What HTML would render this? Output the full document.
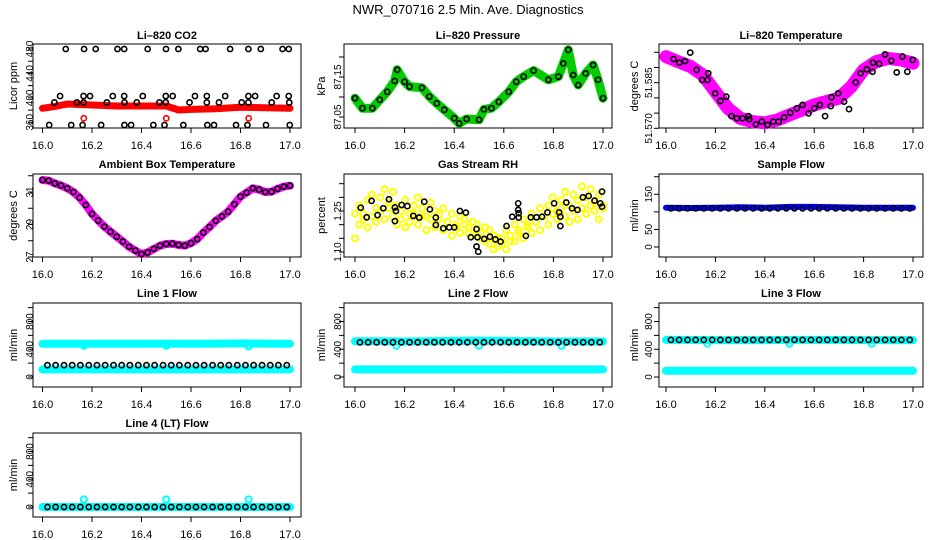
<!DOCTYPE html>
<html><head><meta charset="utf-8">
<style>
html,body{margin:0;padding:0;background:#fff;}
svg{display:block;font-family:"Liberation Sans",Arial,sans-serif;}
</style></head>
<body>
<svg id="chart" width="936" height="540" viewBox="0 0 936 540" xmlns="http://www.w3.org/2000/svg">
<rect x="0" y="0" width="936" height="540" fill="#fff"/>
<text x="468" y="14" text-anchor="middle" font-size="13">NWR_070716  2.5 Min. Ave. Diagnostics</text>
</svg>
<script>
// ---- shared axis data ----
const xTickVals = [16.0, 16.2, 16.4, 16.6, 16.8, 17.0];
const xTickLabels = ['16.0', '16.2', '16.4', '16.6', '16.8', '17.0'];
const bandTimes = [16.0, 16.1, 16.2, 16.3, 16.4, 16.5, 16.6, 16.7, 16.8, 16.9, 17.0];
const flowTimes = [16.02,16.053,16.087,16.12,16.153,16.187,16.22,16.253,16.287,16.32,16.353,16.387,16.42,16.453,16.487,16.52,16.553,16.587,16.62,16.653,16.687,16.72,16.753,16.787,16.82,16.853,16.887,16.92,16.953,16.987];
const outlierTimes = [16.167, 16.5, 16.833];

// ---- CO2 ----
const co2RedTimes = [16.0,16.05,16.1,16.2,16.3,16.4,16.5,16.55,16.6,16.7,16.8,16.9,17.0];
const co2Red = [382.9,386,390,388.3,386.7,386.7,386.7,380.1,381.2,382.3,384.5,383.9,382.9];
const co2RedOutliers = [366.5, 366.5, 366.5];
const co2BlackT480 = [16.094,16.168,16.215,16.303,16.330,16.425,16.499,16.549,16.637,16.659,16.758,16.832,16.882,16.970,16.995];
const co2BlackT403 = [16.071,16.166,16.192,16.284,16.330,16.405,16.498,16.526,16.616,16.664,16.738,16.832,16.859,16.946,16.995];
const co2BlackT392 = [16.048,16.139,16.166,16.260,16.331,16.381,16.472,16.498,16.594,16.664,16.713,16.805,16.832,16.926,16.997];
const co2BlackT356 = [16.027,16.116,16.162,16.237,16.331,16.358,16.448,16.493,16.569,16.666,16.693,16.782,16.828,16.903,16.999];
const co2BlackLevels = [480, 403, 392.5, 355.6];
const co2YTicks = [360,380,400,420,440,460,480];
const co2YLabels = ['360','','400','','440','','480'];

// ---- Pressure ----
const presTimes = [16.0,16.03,16.07,16.1,16.13,16.16,16.17,16.2,16.22,16.27,16.3,16.33,16.36,16.4,16.42,16.45,16.5,16.52,16.55,16.58,16.62,16.65,16.68,16.72,16.78,16.82,16.84,16.86,16.88,16.9,16.93,16.96,16.98,17.0];
const presGreen = [87.097,87.072,87.072,87.093,87.113,87.14,87.168,87.138,87.126,87.123,87.101,87.084,87.068,87.047,87.034,87.045,87.043,87.069,87.072,87.088,87.113,87.138,87.151,87.166,87.143,87.151,87.184,87.218,87.155,87.13,87.159,87.18,87.143,87.097];
const presYTicks = [87.05,87.10,87.15,87.20];
const presYLabels = ['87.05','','87.15',''];

// ---- Li-820 temperature ----
const ltTimes = [16.0,16.05,16.1,16.15,16.2,16.25,16.3,16.35,16.4,16.45,16.5,16.55,16.6,16.65,16.7,16.75,16.8,16.85,16.9,16.95,17.0];
const ltMagenta = [51.5936,51.5919,51.5903,51.5875,51.5820,51.5766,51.5733,51.5722,51.5718,51.5727,51.5744,51.5760,51.5777,51.5788,51.5799,51.5837,51.5892,51.5919,51.5930,51.5925,51.5914];
const ltBlackTimes = [16.031,16.054,16.077,16.098,16.124,16.146,16.168,16.171,16.199,16.220,16.244,16.265,16.287,16.310,16.334,16.337,16.364,16.388,16.411,16.434,16.456,16.478,16.503,16.530,16.553,16.577,16.600,16.623,16.644,16.670,16.667,16.697,16.721,16.741,16.768,16.788,16.813,16.836,16.838,16.863,16.887,16.912,16.934,16.957,16.977,16.999];
const ltBlack = [51.5928,51.5916,51.5921,51.5949,51.5892,51.5859,51.5859,51.5881,51.5815,51.5790,51.5804,51.5740,51.5733,51.5733,51.5740,51.5730,51.5713,51.5722,51.5711,51.5722,51.5722,51.5736,51.5751,51.5766,51.5777,51.5749,51.5766,51.5777,51.5740,51.5802,51.5773,51.5815,51.5788,51.5763,51.5851,51.5881,51.5894,51.5886,51.5916,51.5912,51.5943,51.5922,51.5884,51.5936,51.5886,51.5925];
const ltYTicks = [51.570,51.575,51.580,51.585,51.590,51.595];
const ltYLabels = ['51.570','','','51.585','',''];

// ---- Ambient box temperature ----
const ambTimes = [16.0,16.025,16.05,16.075,16.1,16.125,16.15,16.175,16.2,16.225,16.25,16.275,16.3,16.325,16.35,16.375,16.4,16.425,16.45,16.475,16.5,16.525,16.55,16.575,16.6,16.625,16.65,16.675,16.7,16.725,16.75,16.775,16.8,16.825,16.85,16.875,16.9,16.925,16.95,16.975,17.0];
const ambTemp = [31.74,31.70,31.53,31.40,31.23,31.00,30.65,30.20,29.65,29.25,28.87,28.55,28.25,27.95,27.63,27.40,27.18,27.28,27.50,27.70,27.80,27.82,27.74,27.70,27.85,28.10,28.50,28.85,29.23,29.50,29.79,30.25,30.71,30.96,31.23,31.15,31.00,31.02,31.20,31.33,31.39];
const ambYTicks = [27,28,29,30,31,32];
const ambYLabels = ['27','','29','','31',''];

// ---- Gas stream RH ----
const rhCloudA = [1.24,1.27,1.22,1.29,1.31,1.26,1.30,1.33,1.28,1.32,1.27,1.25,1.29,1.24,1.27,1.30,1.26,1.23,1.28,1.25,1.22,1.26,1.21,1.24,1.19,1.23,1.20,1.17,1.21,1.18,1.15,1.19,1.13,1.16,1.12,1.15,1.18,1.14,1.20,1.17,1.22,1.19,1.24,1.21,1.26,1.23,1.27,1.30,1.25,1.29,1.32,1.27,1.31,1.29,1.34,1.30,1.33,1.28,1.31,1.27];
const rhCloudB = [1.15,1.20,1.24,1.19,1.23,1.21,1.25,1.22,1.26,1.23,1.20,1.22,1.19,1.21,1.24,1.20,1.23,1.18,1.22,1.19,1.24,1.18,1.21,1.16,1.20,1.17,1.22,1.19,1.16,1.20,1.17,1.14,1.18,1.11,1.15,1.13,1.11,1.16,1.14,1.18,1.15,1.20,1.17,1.21,1.18,1.23,1.20,1.24,1.22,1.26,1.23,1.21,1.25,1.22,1.26,1.24,1.27,1.25,1.22,1.26];
const rhCloudTimes = [16.0,16.017,16.034,16.051,16.068,16.085,16.102,16.119,16.136,16.153,16.169,16.186,16.203,16.22,16.237,16.254,16.271,16.288,16.305,16.322,16.339,16.356,16.373,16.39,16.407,16.424,16.441,16.458,16.475,16.492,16.508,16.525,16.542,16.559,16.576,16.593,16.61,16.627,16.644,16.661,16.678,16.695,16.712,16.729,16.746,16.763,16.78,16.797,16.814,16.831,16.847,16.864,16.881,16.898,16.915,16.932,16.949,16.966,16.983,17.0];
const rhBlackTimes = [16.023,16.047,16.067,16.091,16.114,16.137,16.161,16.165,16.161,16.188,16.211,16.235,16.259,16.279,16.302,16.326,16.326,16.356,16.380,16.400,16.423,16.447,16.467,16.490,16.490,16.497,16.494,16.521,16.544,16.566,16.587,16.611,16.634,16.658,16.658,16.660,16.660,16.689,16.709,16.732,16.754,16.776,16.803,16.823,16.828,16.828,16.852,16.875,16.897,16.919,16.942,16.966,16.989,16.996,16.996];
const rhBlack = [1.262,1.227,1.287,1.235,1.260,1.293,1.263,1.250,1.213,1.272,1.268,1.232,1.226,1.284,1.256,1.226,1.199,1.187,1.190,1.190,1.250,1.244,1.154,1.184,1.120,1.101,1.154,1.148,1.156,1.146,1.138,1.195,1.229,1.278,1.254,1.242,1.226,1.159,1.227,1.227,1.229,1.245,1.278,1.245,1.229,1.195,1.281,1.260,1.254,1.300,1.305,1.288,1.278,1.266,1.321];
const rhYTicks = [1.10,1.15,1.20,1.25,1.30,1.35];
const rhYLabels = ['1.10','','','1.25','',''];

// ---- Sample flow ----
const sampleBlue = [112,111,112,113,112,114,114,113,112,112,112];
const sampleBlack = [110,110,110,110,110,110,110,110,110,110,110,110,110,110,110,110,110,110,110,110,110,110,110,110,110,110,110,110,110,110];
const sampleYTicks = [0,50,100,150,200];
const sampleYLabels = ['0','50','','150',''];

// ---- Line flows ----
const flowYTicks = [0,200,400,600,800,1000];
const flowYLabels = ['0','','400','','800',''];
const line1CyanHigh = [480,478,479,480,480,481,480,482,484,482,480];
const line1CyanLow = [110,110,110,110,110,110,110,110,110,110,110];
const line1Black = [170,170,170,170,170,170,170,170,170,170,170,170,170,170,170,170,170,170,170,170,170,170,170,170,170,170,170,170,170,170];
const line1Outliers = [450,450,440];
const line2CyanHigh = [515,515,512,515,520,522,520,515,512,512,512];
const line2CyanLow = [110,110,110,110,110,110,110,110,110,110,110];
const line2Black = [500,500,500,500,500,500,500,500,500,500,500,500,500,500,500,500,500,500,500,500,500,500,500,500,500,500,500,500,500,500];
const line2Outliers = [450,450,450];
const line3CyanHigh = [535,535,532,532,532,535,535,535,532,532,532];
const line3CyanLow = [90,90,90,90,90,90,90,90,90,90,90];
const line3Black = [535,535,535,535,535,535,535,535,535,535,535,535,535,535,535,535,535,535,535,535,535,535,535,535,535,535,535,535,535,535];
const line3Outliers = [480,480,480];
const line4Cyan = [0,0,0,0,0,0,0,0,0,0,0];
const line4Black = [0,0,0,0,0,0,0,0,0,0,0,0,0,0,0,0,0,0,0,0,0,0,0,0,0,0,0,0,0,0];
const line4Outliers = [110,110,110];

const NS = 'http://www.w3.org/2000/svg';
const svg = document.getElementById('chart');
function mk(tag, attrs, parent) {
  const e = document.createElementNS(NS, tag);
  for (const k in attrs) e.setAttribute(k, attrs[k]);
  (parent || svg).appendChild(e);
  return e;
}
const cols = [
  {bx0:33, bx1:301, px0:42.5, px1:290, labX:29, titleX:13},
  {bx0:344, bx1:612, px0:355, px1:603, labX:337, titleX:321},
  {bx0:659, bx1:923, px0:666, px1:913, labX:648, titleX:634}
];
const rows = [
  {by0:44, by1:128, tY:39},
  {by0:174, by1:257, tY:168},
  {by0:303, by1:387, tY:297},
  {by0:433, by1:517, tY:427}
];

function panel(name, title, col, row, yA, pyA, yB, pyB, yTicks, yLabels, yTitle) {
  const c = cols[col], r = rows[row];
  const g = mk('g', {});
  
  
  const sx = v => c.px0 + (v - 16) * (c.px1 - c.px0);
  const sy = v => pyA + (v - yA) * (pyB - pyA) / (yB - yA);
  const t = mk('text', {x:(c.bx0+c.bx1)/2, y:r.tY, 'text-anchor':'middle', 'font-size':11, 'font-weight':'bold'}, g);
  t.textContent = title;
  
  
  const box = mk('rect', {x:c.bx0, y:r.by0, width:c.bx1-c.bx0, height:r.by1-r.by0, fill:'none', stroke:'#000', 'stroke-width':1}, g);
  
  
  const xa = mk('g', {}, g);
  
  
  xTickVals.forEach((v, i) => {
    const x = sx(v);
    const tk = mk('line', {x1:x, x2:x, y1:r.by1, y2:r.by1+5, stroke:'#000'}, xa);
    
    
    const lb = mk('text', {x:x, y:r.by1+21, 'text-anchor':'middle', 'font-size':11}, xa);
    lb.textContent = xTickLabels[i];
    
    
  });
  const ya = mk('g', {}, g);
  
  
  yTicks.forEach((v, i) => {
    const y = sy(v);
    const tk = mk('line', {x1:c.bx0-5, x2:c.bx0, y1:y, y2:y, stroke:'#000'}, ya);
    
    
    if (yLabels[i]) {
      const lb = mk('text', {x:0, y:0, 'text-anchor':'middle', 'font-size':10, transform:'translate(' + (c.labX+4) + ',' + y + ') rotate(-90)'}, ya);
      lb.textContent = yLabels[i];
      
      
    }
  });
  const yt = mk('text', {x:0, y:0, 'text-anchor':'middle', 'font-size':11, transform:'translate(' + (c.titleX+4) + ',' + ((r.by0+r.by1)/2) + ') rotate(-90)'}, g);
  yt.textContent = yTitle;
  
  
  const marks = mk('g', {}, g);
  
  
  return {sx, sy, marks};
}
function band(p, times, vals, color, w, nm) {
  const pts = times.map((t, i) => p.sx(t).toFixed(1) + ',' + p.sy(vals[i]).toFixed(1)).join(' ');
  const pl = mk('polyline', {points:pts, fill:'none', stroke:color, 'stroke-width':w, 'stroke-linejoin':'round', 'stroke-linecap':'round'}, p.marks);
  
  
}
function rings(p, times, vals, color, nm, r, sw) {
  times.forEach((t, i) => {
    const cc = mk('circle', {cx:p.sx(t), cy:p.sy(vals[i]), r:r || 2.6, fill:'none', stroke:color, 'stroke-width':sw || 1.6}, p.marks);
    
    
  });
}
function constRings(p, times, val, color, nm) {
  times.forEach(t => {
    const cc = mk('circle', {cx:p.sx(t), cy:p.sy(val), r:2.6, fill:'none', stroke:color, 'stroke-width':1.6}, p.marks);
    
    
  });
}

// Panel 1: CO2
let p = panel('co2', 'Li\u2013820 CO2', 0, 0, 360, 122.3, 480, 49, co2YTicks, co2YLabels, 'Licor ppm');
band(p, co2RedTimes, co2Red, '#ff0000', 7, 'co2-band');
rings(p, outlierTimes, co2RedOutliers, '#ff0000', 'co2-outlier');
constRings(p, co2BlackT480, co2BlackLevels[0], '#000', 'co2-point');
constRings(p, co2BlackT403, co2BlackLevels[1], '#000', 'co2-point');
constRings(p, co2BlackT392, co2BlackLevels[2], '#000', 'co2-point');
constRings(p, co2BlackT356, co2BlackLevels[3], '#000', 'co2-point');

// Panel 2: Pressure
p = panel('pressure', 'Li\u2013820 Pressure', 1, 0, 87.05, 117, 87.15, 77, presYTicks, presYLabels, 'kPa');
band(p, presTimes, presGreen, '#00cc00', 9, 'pressure-band');
rings(p, presTimes, presGreen, '#000', 'pressure-point');

// Panel 3: Li-820 temperature
p = panel('li-temp', 'Li\u2013820 Temperature', 2, 0, 51.570, 128.3, 51.585, 82.7, ltYTicks, ltYLabels, 'degrees C');
band(p, ltTimes, ltMagenta, '#ff00ff', 13, 'li-temp-band');
rings(p, ltBlackTimes, ltBlack, '#000', 'li-temp-point');

// Panel 4: Ambient
p = panel('ambient', 'Ambient Box Temperature', 0, 1, 27, 257, 31, 192, ambYTicks, ambYLabels, 'degrees C');
band(p, ambTimes, ambTemp, '#ff00ff', 8, 'ambient-band');
rings(p, ambTimes, ambTemp, '#000', 'ambient-point');

// Panel 5: RH
p = panel('rh', 'Gas Stream RH', 1, 1, 1.10, 252, 1.25, 211, rhYTicks, rhYLabels, 'percent');
rings(p, rhCloudTimes, rhCloudA, '#ffff00', 'rh-cloud-point', 3, 2);
rings(p, rhCloudTimes, rhCloudB, '#ffff00', 'rh-cloud-point', 3, 2);
rings(p, rhBlackTimes, rhBlack, '#000', 'rh-point');

// Panel 6: Sample flow
p = panel('sample-flow', 'Sample Flow', 2, 1, 0, 247, 150, 194.3, sampleYTicks, sampleYLabels, 'ml/min');
band(p, bandTimes, sampleBlue, '#0000ff', 6, 'sample-flow-band');
rings(p, flowTimes, sampleBlack, '#000', 'sample-flow-point');

// Panel 7-10: line flows
function flowPanel(name, title, col, row, hi, lo, blk, outl) {
  const r = rows[row];
  const pp = panel(name, title, col, row, 0, r.by1-10, 800, r.by1-10-55.5, flowYTicks, flowYLabels, 'ml/min');
  if (hi) band(pp, bandTimes, hi, '#00ffff', 8, name + '-band-high');
  if (lo) band(pp, bandTimes, lo, '#00ffff', 8, name + '-band-low');
  rings(pp, outlierTimes, outl, '#00ffff', name + '-outlier', 3, 2);
  rings(pp, flowTimes, blk, '#000', name + '-point');
}
flowPanel('line1-flow', 'Line 1 Flow', 0, 2, line1CyanHigh, line1CyanLow, line1Black, line1Outliers);
flowPanel('line2-flow', 'Line 2 Flow', 1, 2, line2CyanHigh, line2CyanLow, line2Black, line2Outliers);
flowPanel('line3-flow', 'Line 3 Flow', 2, 2, line3CyanHigh, line3CyanLow, line3Black, line3Outliers);
flowPanel('line4-flow', 'Line 4 (LT) Flow', 0, 3, line4Cyan, null, line4Black, line4Outliers);
</script>
</body></html>
